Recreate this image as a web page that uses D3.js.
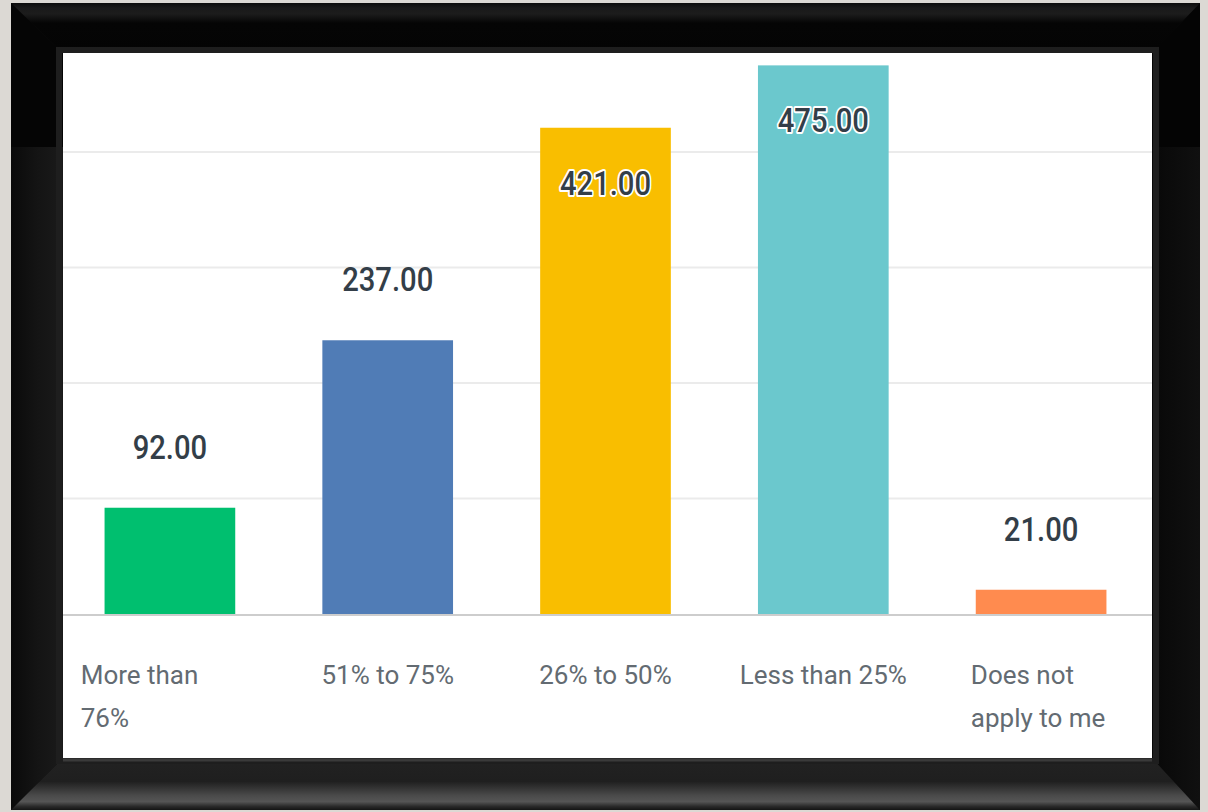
<!DOCTYPE html>
<html>
<head>
    <script src="https://d3js.org/d3.v7.min.js"></script>
    <style>
        body { margin: 0; background: #dcd9d4; }
        svg { display: block; }
        .value-label { font-family: Roboto, "Noto Sans", sans-serif; font-weight: 500; fill: #333e48; }
        .cat-label { font-family: Roboto, "Noto Sans", sans-serif; fill: #636b72; }
    </style>
</head>
<body>
<div id="chart"></div>
<script>
    // chart data
    const categories = ["More than 76%", "51% to 75%", "26% to 50%", "Less than 25%", "Does not apply to me"];
    const categoryLines = [["More than", "76%"], ["51% to 75%"], ["26% to 50%"], ["Less than 25%"], ["Does not", "apply to me"]];
    const values = [92, 237, 421, 475, 21];
    const barColors = ["#00bf6f", "#507cb6", "#f9be00", "#6bc8cd", "#ff8b4f"];
    const gridTicks = [0, 100, 200, 300, 400, 500];

    const width = 1208, height = 812;
    const frame = {x0: 11, y0: 3, x1: 1200, y1: 810};
    const panel = {x0: 63, y0: 53, x1: 1152, y1: 758};
    const baseY = 614;

    const svg = d3.select("#chart").append("svg")
        .attr("width", width)
        .attr("height", height);

    const defs = svg.append("defs");

    function vGrad(id, stops) {
        const g = defs.append("linearGradient").attr("id", id)
            .attr("x1", 0).attr("y1", 0).attr("x2", 0).attr("y2", 1);
        stops.forEach(s => g.append("stop").attr("offset", s[0]).attr("stop-color", s[1]));
    }
    function hGrad(id, stops) {
        const g = defs.append("linearGradient").attr("id", id)
            .attr("x1", 0).attr("y1", 0).attr("x2", 1).attr("y2", 0);
        stops.forEach(s => g.append("stop").attr("offset", s[0]).attr("stop-color", s[1]));
    }

    vGrad("gTop", [[0, "#0c0c0c"], [0.1, "#1a1a1a"], [0.22, "#1c1c1c"], [0.4, "#050505"], [1, "#040404"]]);
    vGrad("gBottom", [[0, "#222"], [0.45, "#1f1f1f"], [0.72, "#4a4a4a"], [0.84, "#555"], [0.93, "#2a2a2a"], [1, "#141414"]]);
    hGrad("gLeft", [[0, "#0a0a0a"], [0.5, "#141414"], [1, "#1a1a1a"]]);
    hGrad("gRight", [[0, "#080808"], [0.5, "#0c0c0c"], [1, "#101010"]]);

    // background + picture frame
    svg.append("rect").attr("width", width).attr("height", height).attr("fill", "#dcd9d4");
    svg.append("rect")
        .attr("x", frame.x0).attr("y", frame.y0)
        .attr("width", frame.x1 - frame.x0).attr("height", frame.y1 - frame.y0)
        .attr("fill", "#060606");

    const poly = (pts, fill) => svg.append("polygon")
        .attr("points", pts.map(p => p.join(",")).join(" "))
        .attr("fill", fill);

    poly([[frame.x0, frame.y0], [frame.x0, frame.y1], [panel.x0, panel.y1], [panel.x0, panel.y0]], "url(#gLeft)");
    poly([[frame.x1, frame.y0], [frame.x1, frame.y1], [panel.x1, panel.y1], [panel.x1, panel.y0]], "url(#gRight)");
    // darker upper parts of the sides
    poly([[frame.x0, frame.y0], [panel.x0, panel.y0], [panel.x0, 147], [frame.x0, 147]], "#050505");
    poly([[frame.x1, frame.y0], [panel.x1, panel.y0], [panel.x1, 147], [frame.x1, 147]], "#040404");
    poly([[frame.x0, frame.y0], [frame.x1, frame.y0], [panel.x1, panel.y0], [panel.x0, panel.y0]], "url(#gTop)");
    poly([[frame.x0, frame.y1], [frame.x1, frame.y1], [panel.x1, panel.y1], [panel.x0, panel.y1]], "url(#gBottom)");

    // inner lip
    svg.append("rect")
        .attr("x", panel.x0 - 4).attr("y", panel.y0 - 3)
        .attr("width", panel.x1 - panel.x0 + 8).attr("height", panel.y1 - panel.y0 + 6)
        .attr("fill", "none").attr("stroke", "#1e1e1e").attr("stroke-width", 6);
    svg.append("line")
        .attr("x1", panel.x0).attr("x2", panel.x1)
        .attr("y1", panel.y1 + 2).attr("y2", panel.y1 + 2)
        .attr("stroke", "#3a3a3a").attr("stroke-width", 3);

    // white chart panel
    svg.append("rect")
        .attr("x", panel.x0).attr("y", panel.y0)
        .attr("width", panel.x1 - panel.x0).attr("height", panel.y1 - panel.y0)
        .attr("fill", "#fff");

    defs.append("clipPath").attr("id", "panelClip")
        .append("rect")
        .attr("x", panel.x0).attr("y", panel.y0)
        .attr("width", panel.x1 - panel.x0).attr("height", panel.y1 - panel.y0);

    const g = svg.append("g").attr("clip-path", "url(#panelClip)");

    const x = d3.scaleBand()
        .domain(categories)
        .range([61, 1150])
        .paddingInner(0.4)
        .paddingOuter(0.2);

    const y = d3.scaleLinear()
        .domain([0, 500])
        .range([baseY, baseY - 577.5]);

    // gridlines
    g.selectAll(".grid")
        .data(gridTicks.filter(t => t > 0))
        .enter().append("line")
        .attr("x1", panel.x0).attr("x2", panel.x1)
        .attr("y1", d => y(d)).attr("y2", d => y(d))
        .attr("stroke", "#ebebeb")
        .attr("stroke-width", 2);

    // bars
    g.selectAll(".bar")
        .data(values)
        .enter().append("rect")
        .attr("x", (d, i) => x(categories[i]))
        .attr("y", d => y(d))
        .attr("width", x.bandwidth())
        .attr("height", d => y(0) - y(d))
        .attr("fill", (d, i) => barColors[i]);

    // baseline
    g.append("line")
        .attr("x1", panel.x0).attr("x2", panel.x1)
        .attr("y1", y(0) + 1).attr("y2", y(0) + 1)
        .attr("stroke", "#cdcdcd")
        .attr("stroke-width", 2);

    // value labels, inside the bar when there is no room above
    values.forEach((v, i) => {
        const cx = x(categories[i]) + x.bandwidth() / 2;
        const inside = y(v) - 75 < panel.y0 + 10;
        const ty = inside ? y(v) + 67 : y(v) - 49;
        const t = g.append("text")
            .attr("class", "value-label")
            .attr("transform", "translate(" + cx + "," + ty + ") scale(0.86,1)")
            .attr("text-anchor", "middle")
            .style("font-size", "34px")
            .text(v.toFixed(2));
        if (inside) {
            t.attr("stroke", "#fff")
             .attr("stroke-width", 4)
             .attr("stroke-linejoin", "round")
             .attr("paint-order", "stroke");
        }
    });

    // category labels
    const step = x.step();
    categoryLines.forEach((lines, i) => {
        const cx = x(categories[i]) + x.bandwidth() / 2;
        const t = g.append("text")
            .attr("class", "cat-label")
            .style("font-size", "26px");
        lines.forEach((line, j) => {
            t.append("tspan")
                .attr("x", 0)
                .attr("y", baseY + 70 + j * 43)
                .text(line);
        });
        if (lines.length === 1) {
            t.attr("text-anchor", "middle").attr("transform", "translate(" + cx + ",0)");
        } else {
            const full = t.append("tspan").attr("x", 0).attr("y", -100).text(categories[i]);
            const fullW = full.node().getComputedTextLength();
            full.remove();
            const longest = d3.max(t.selectAll("tspan").nodes(), n => n.getComputedTextLength());
            const blockW = fullW <= step ? fullW : longest;
            t.attr("transform", "translate(" + (cx - blockW / 2 - 3) + ",0)");
        }
    });
</script>
</body>
</html>
